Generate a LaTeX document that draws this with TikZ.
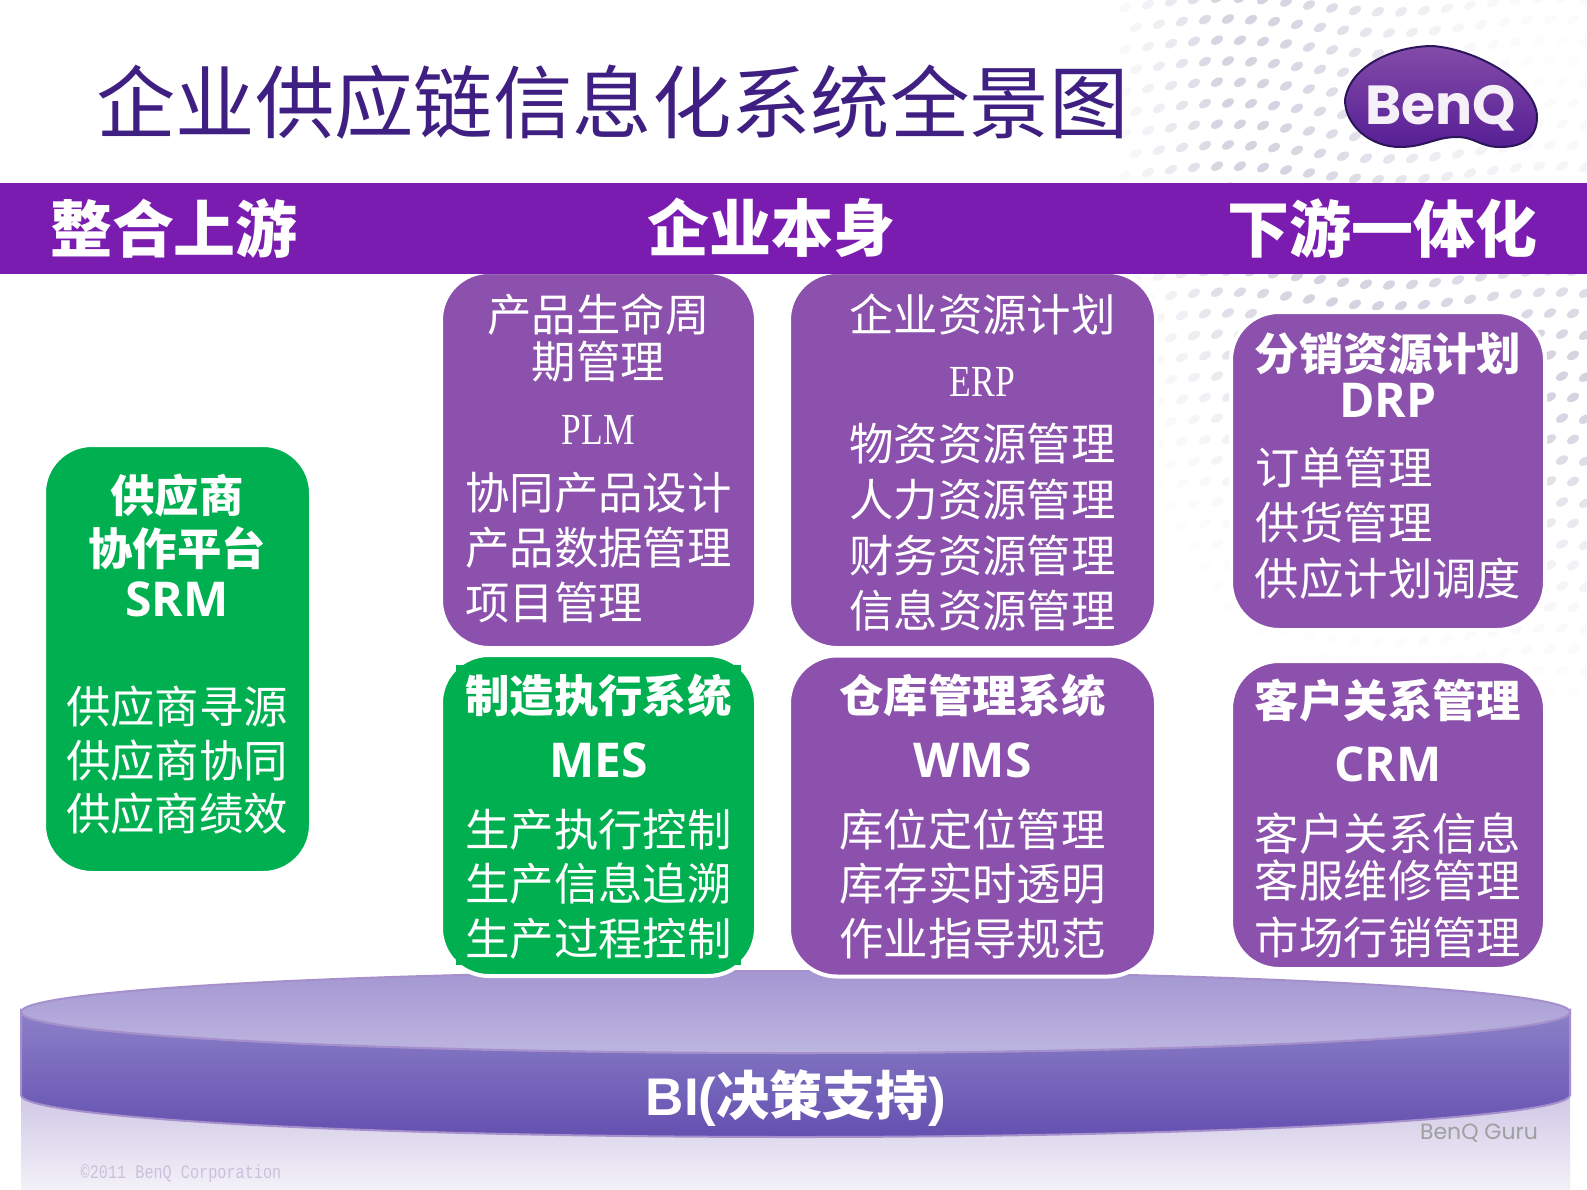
\documentclass[tikz,border=0pt]{standalone}
\usepackage{fontspec}
\setmainfont{Noto Sans CJK SC}
\newfontfamily\latb{Open Sans}
\newfontfamily\arl{Liberation Sans}
\newfontfamily\latn[FakeStretch=0.8]{Liberation Serif}
\newfontfamily\latm[FakeStretch=0.8]{Liberation Mono}
\newfontfamily\logof{Poppins}
\usetikzlibrary{shapes.geometric}
\definecolor{bandclr}{HTML}{7A1CB0}
\definecolor{purclr}{HTML}{8B51AC}
\definecolor{grnclr}{HTML}{00B050}
\definecolor{ttlclr}{HTML}{3F2082}
\definecolor{dotclr}{HTML}{B4B0C8}
\definecolor{rimclr}{HTML}{A590CC}
\definecolor{sidetop}{HTML}{8B80C8}
\definecolor{sidemid}{HTML}{9488CC}
\definecolor{sidebot}{HTML}{6450B0}
\definecolor{disctopa}{HTML}{A497D2}
\definecolor{disctopb}{HTML}{BDB5E0}
\definecolor{reflclr}{HTML}{D0C8E6}
\definecolor{reflend}{HTML}{F3F1F8}
\tikzset{
  blk/.style={draw=white,line width=2pt,rounded corners=24pt,inner sep=0pt},
  purblk/.style={blk,fill=purclr},
  grnblk/.style={blk,fill=grnclr},
  grnbg/.style={fill=grnclr,inner sep=0pt},
  boxtxt/.style={align=center,text=white,inner sep=0pt,font=\fontsize{22.2}{23.5}\selectfont},
  bandtxt/.style={text=white,font=\fontsize{31}{33}\selectfont\bfseries},
  faint/.style={inner sep=0pt}
}
\newcommand{\hd}[1]{{\bfseries #1}}
\newcommand{\hdl}[1]{{\latb\fontsize{24}{23.5}\selectfont\bfseries #1}}
\newcommand{\lt}[1]{\makebox[133pt][l]{#1}}
\begin{document}
\begin{tikzpicture}[x=0.5pt,y=-0.5pt]
  \useasboundingbox (0,0) rectangle (1587,1190);
  \fill[white] (0,0) rectangle (1587,1190);
  % dots behind everything
  \foreach \i in {0,...,20}
    \foreach \j in {0,...,33} {
      \pgfmathsetmacro\dotx{1125+\i*23+mod(\j,2)*11}
      \pgfmathsetmacro\doty{5+\j*21+7*sin(\dotx*1.1)}
      \pgfmathsetmacro\rad{veclen((\dotx-1560)/100,(\doty-60)/100)}
      \pgfmathsetmacro\op{0.55*exp(-((\rad-3.2)/1.7)*((\rad-3.2)/1.7))*min(1,(\dotx-1100)/120)}
      \fill[dotclr,opacity=\op,rotate around={30:(\dotx,\doty)}] (\dotx,\doty) ellipse (6.5 and 4);
    }

  \node[anchor=west,text=ttlclr,inner sep=0pt,font=\fontsize{39.7}{42}\selectfont] (title) at (96,102) {企业供应链信息化系统全景图};
  \draw[draw=ttlclr!70!black,top color=purclr!90!ttlclr,middle color=ttlclr!60!bandclr,bottom color=ttlclr!60!bandclr,line width=1pt] (1345,100)
    .. controls (1350,65) and (1395,46) .. (1433,46)
    .. controls (1480,50) and (1537,85) .. (1537,117)
    .. controls (1537,140) and (1520,147) .. (1500,147)
    .. controls (1480,147) and (1475,137) .. (1457,137)
    .. controls (1435,137) and (1425,147) .. (1400,147)
    .. controls (1370,147) and (1345,125) .. (1345,100) -- cycle;
  \node[text=white!92!purclr,inner sep=0pt,font=\logof\fontsize{27.5}{28}\selectfont\bfseries] (logo) at (1441,108) {BenQ};

  % BI disc
  \shade[top color=reflclr,bottom color=reflend] (21,1095) rectangle (1570,1190);
  \draw[draw=rimclr,line width=1pt,top color=sidetop,middle color=sidemid,bottom color=sidebot]
    (21,1012) -- (21,1095) arc[start angle=180,end angle=0,x radius=774.5,y radius=42]
    -- (1570,1012) arc[start angle=0,end angle=180,x radius=774.5,y radius=41] -- cycle;
  \node[ellipse,draw=rimclr,line width=1pt,minimum width=774.5pt,minimum height=41pt,inner sep=0pt,top color=disctopa,bottom color=disctopb] (disctop) at (795.5,1012) {};
  \node[text=white,inner sep=0pt,font=\arl\fontsize{26.5}{28}\selectfont\bfseries] (bi) at (796,1098) {BI(\fontspec{Noto Sans CJK SC}决策支持\arl)};

  \node[grnbg,minimum width=121pt,minimum height=201pt] (srmbg) at (177,659) {};
  \node[grnblk,minimum width=133.5pt,minimum height=214pt] (srm) at (177.5,659) {};
  \node[boxtxt] (srmtxt) at (177,654) {\hd{供应商}\\[3pt]\hd{协作平台}\\[2pt]\hdl{SRM}\\[30pt]供应商寻源\\[3.5pt]供应商协同\\[3pt]供应商绩效};

  \node[purblk,minimum width=157.5pt,minimum height=188pt] (plm) at (598.5,460) {};
  \node[boxtxt] (plmtxt) at (598.5,458) {产品生命周\\期管理\\[9.5pt]{\latn PLM}\\[9pt]协同产品设计\\[4pt]产品数据管理\\[4pt]\lt{项目管理}};
  \node[purblk,minimum width=183.5pt,minimum height=188pt] (erp) at (972.5,460) {};
  \node[boxtxt] (erptxt) at (982.5,462) {企业资源计划\\[9pt]{\latn ERP}\\[8.5pt]物资资源管理\\[4.5pt]人力资源管理\\[4.5pt]财务资源管理\\[4pt]信息资源管理};

  \node[grnblk,minimum width=157.5pt,minimum height=160.5pt] (mes) at (598.5,815.5) {};
  \node[grnbg,minimum width=142.5pt,minimum height=150pt] (mesbg) at (598.5,815) {};
  \node[boxtxt] (mestxt) at (598.5,816.5) {\hd{制造执行系统}\\[9pt]\hdl{MES}\\[11pt]生产执行控制\\[3.5pt]生产信息追溯\\[4pt]生产过程控制};
  \node[purblk,minimum width=183.5pt,minimum height=160.5pt] (wms) at (972.5,816) {};
  \node[boxtxt] (wmstxt) at (972.5,816.5) {\hd{仓库管理系统}\\[9pt]\hdl{WMS}\\[11pt]库位定位管理\\[3.5pt]库存实时透明\\[4pt]作业指导规范};

  \node[purblk,minimum width=157pt,minimum height=159pt] (drp) at (1388,471) {};
  \node[boxtxt] (drptxt) at (1388,466) {\hd{分销资源计划}\\\hdl{DRP}\\[10pt]\lt{订单管理}\\[4pt]\lt{供货管理}\\[4.5pt]供应计划调度};
  \node[purblk,minimum width=157pt,minimum height=154pt] (crm) at (1388,815) {};
  \node[boxtxt] (crmtxt) at (1388,818.5) {\hd{客户关系管理}\\[8.5pt]\hdl{CRM}\\[11pt]客户关系信息\\客服维修管理\\[5pt]市场行销管理};

  \node[fill=bandclr,minimum width=793.5pt,minimum height=45.5pt,inner sep=0pt] (band) at (793.5,228.5) {};
  \node[bandtxt] (up) at (174,228) {整合上游};
  \node[bandtxt] (self) at (771,228) {企业本身};
  \node[bandtxt] (down) at (1382,228) {下游一体化};

  \node[faint,text=ttlclr!28!white,font=\latm\fontsize{9.5}{10}\selectfont] (copy) at (181,1174) {©2011 BenQ Corporation};
  \node[faint,text=gray!75!white,font=\logof\fontsize{11}{12}\selectfont] (guru) at (1479,1133) {BenQ Guru};
\end{tikzpicture}
\end{document}
